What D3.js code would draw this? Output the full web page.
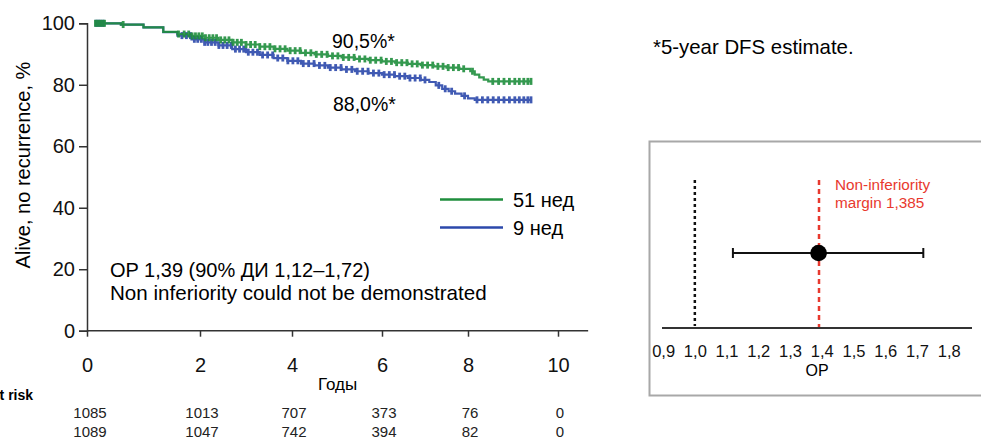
<!DOCTYPE html>
<html lang="ru">
<head>
<meta charset="UTF-8">
<title>DFS 51 vs 9 нед</title>
<style>
  body { margin: 0; background: #fff; }
  svg { display: block; font-family: "Liberation Sans", Arial, Helvetica, sans-serif; }
  .axis path, .axis line { stroke: #333; }
  .axis text { fill: #111; }
</style>
</head>
<body>
<svg id="chart" width="981" height="441"></svg>

<script src="https://cdn.jsdelivr.net/npm/d3@7"></script>
<script>
// ---- data ----
var years = [0, 2, 4, 6, 8, 10];
var yTicks = [0, 20, 40, 60, 80, 100];

var time51 = [0.15, 0.6, 1.0, 1.35, 1.6, 1.85, 2.1, 2.4, 2.7, 3.0, 3.3, 3.6, 3.9, 4.2, 4.5, 4.8, 5.1, 5.4, 5.7, 6.0, 6.3, 6.6, 6.9, 7.2, 7.5, 7.8, 8.05, 8.15, 8.25, 8.35, 8.45, 9.42];
var surv51 = [100, 99.6, 98.7, 97.2, 96.5, 95.9, 95.3, 94.6, 93.8, 93.1, 92.4, 91.7, 91.1, 90.4, 89.9, 89.4, 88.9, 88.4, 88.0, 87.6, 87.2, 86.8, 86.4, 86.0, 85.6, 85.2, 84.4, 83.3, 82.4, 81.7, 81.1, 81.1];

var time9 = [0.15, 0.6, 1.0, 1.35, 1.6, 1.85, 2.1, 2.4, 2.7, 3.0, 3.3, 3.6, 3.9, 4.2, 4.5, 4.8, 5.1, 5.4, 5.7, 6.0, 6.3, 6.6, 6.9, 7.1, 7.25, 7.4, 7.55, 7.7, 7.85, 8.0, 8.15, 9.42];
var surv9 = [100, 99.6, 98.7, 97.1, 96.0, 94.8, 93.8, 92.8, 91.6, 90.6, 89.7, 88.7, 87.8, 86.9, 86.3, 85.6, 85.0, 84.4, 83.8, 83.3, 82.8, 82.2, 81.6, 80.9, 79.8, 78.7, 77.9, 77.1, 76.4, 75.6, 75.1, 75.1];

// censoring marks
var cens51 = [0.15, 0.19, 0.23, 0.27, 0.31, 0.64, 1.62, 1.72, 1.8, 1.86, 1.92, 1.98, 2.05, 2.12, 2.2, 2.28, 2.36, 2.45, 2.54, 2.63, 2.72, 2.81, 2.9, 3.0, 3.1, 3.2, 3.3, 3.41, 3.52, 3.63, 3.74, 3.85, 3.96, 4.07, 4.18, 4.3, 4.42, 4.54, 4.66, 4.78, 4.9, 5.02, 5.14, 5.26, 5.38, 5.5, 5.62, 5.74, 5.86, 5.98, 6.1, 6.22, 6.34, 6.46, 6.58, 6.7, 6.82, 6.94, 7.06, 7.18, 7.3, 7.42, 7.54, 7.66, 7.78, 7.9, 8.1, 8.55, 8.68, 8.8, 8.92, 9.04, 9.14, 9.24, 9.33, 9.4];
var cens9 = [0.16, 0.2, 0.24, 0.29, 1.68, 1.76, 1.83, 1.9, 1.96, 2.03, 2.1, 2.17, 2.25, 2.33, 2.41, 2.5, 2.59, 2.68, 2.77, 2.86, 2.95, 3.05, 3.15, 3.25, 3.36, 3.47, 3.58, 3.69, 3.8, 3.91, 4.02, 4.13, 4.25, 4.37, 4.49, 4.61, 4.73, 4.85, 4.97, 5.09, 5.21, 5.33, 5.45, 5.57, 5.69, 5.81, 5.93, 6.05, 6.17, 6.29, 6.41, 6.53, 6.65, 6.77, 6.89, 7.0, 7.32, 7.47, 7.62, 7.92, 8.2, 8.32, 8.44, 8.56, 8.68, 8.8, 8.92, 9.04, 9.14, 9.24, 9.33, 9.4];

var risk51 = [1085, 1013, 707, 373, 76, 0];
var risk9 = [1089, 1047, 742, 394, 82, 0];

var hrTicks = [0.9, 1.0, 1.1, 1.2, 1.3, 1.4, 1.5, 1.6, 1.7, 1.8];
var hrRef = 1.0;
var hrMargin = 1.385;
var hrPoint = 1.39;
var hrLow = 1.12;
var hrHigh = 1.72;

var green = "#1f8e3d";
var blue = "#2c49ab";
var red = "#e8392e";

var svg = d3.select("#chart");

// ---- KM plot ----
var x = d3.scaleLinear()
    .domain(years)
    .range([87, 200, 292, 382, 468, 558]);
var xEnd = 10.67;
var y = d3.scaleLinear().domain([0, 100]).range([330.7, 23.3]);

var yAxis = svg.append("g")
    .attr("class", "axis")
    .attr("transform", "translate(87,0)")
    .call(d3.axisLeft(y).tickValues(yTicks).tickSize(8).tickPadding(4));
yAxis.select(".domain").attr("stroke-width", 1.5);
yAxis.selectAll("line").attr("stroke-width", 1.5);
yAxis.selectAll("text").style("font-size", "20px");

var xAxis = svg.append("g")
    .attr("class", "axis")
    .attr("transform", "translate(0," + y(0) + ")")
    .call(d3.axisBottom(x).tickValues(years).tickSize(6).tickPadding(21).tickFormat(d3.format("d")));
xAxis.select(".domain").remove();
xAxis.selectAll("line").attr("stroke-width", 1.5);
xAxis.selectAll("text").style("font-size", "20px");
xAxis.append("line")
    .attr("x1", x(0)).attr("x2", x(xEnd))
    .attr("stroke", "#333").attr("stroke-width", 1.5);

svg.append("text")
    .attr("x", (x(0) + x(xEnd)) / 2)
    .attr("y", 390)
    .attr("text-anchor", "middle")
    .style("font-size", "17px")
    .text("Годы");

svg.append("text")
    .attr("transform", "translate(30," + 165 + ") rotate(-90)")
    .attr("text-anchor", "middle")
    .style("font-size", "20px")
    .text("Alive, no recurrence, %");

var line = d3.line()
    .x(function (d) { return x(d[0]); })
    .y(function (d) { return y(d[1]); })
    .curve(d3.curveStepAfter);

function survAt(times, surv, t) {
    var i = d3.bisectRight(times, t) - 1;
    return surv[Math.max(0, i)];
}

var series = [
    { times: time9, surv: surv9, cens: cens9, color: blue },
    { times: time51, surv: surv51, cens: cens51, color: green }
];

series.forEach(function (s) {
    var pts = s.times.map(function (t, i) { return [t, s.surv[i]]; });
    var g = svg.append("g").attr("opacity", 0.9);
    g.append("path")
        .datum(pts)
        .attr("d", line)
        .attr("fill", "none")
        .attr("stroke", s.color)
        .attr("stroke-width", 2.2);
    g.selectAll("rect")
        .data(s.cens)
        .enter().append("rect")
        .attr("x", function (t) { return x(t) - 1.4; })
        .attr("y", function (t) { return y(survAt(s.times, s.surv, t)) - 3.5; })
        .attr("width", 2.8)
        .attr("height", 7)
        .attr("fill", s.color);
});

svg.append("text").attr("x", 332).attr("y", 48).style("font-size", "19.5px").text("90,5%*");
svg.append("text").attr("x", 333).attr("y", 111).style("font-size", "19.5px").text("88,0%*");

// legend
var legend = [
    { label: "51 нед", color: green },
    { label: "9 нед", color: blue }
];
var lg = svg.selectAll(".lg")
    .data(legend)
    .enter().append("g")
    .attr("class", "lg")
    .attr("transform", function (d, i) { return "translate(440," + (199.5 + i * 28) + ")"; });
lg.append("line")
    .attr("x1", 0).attr("x2", 63)
    .attr("stroke", function (d) { return d.color; })
    .attr("stroke-width", 2.6);
lg.append("text")
    .attr("x", 73).attr("y", 7.5)
    .style("font-size", "20px")
    .text(function (d) { return d.label; });

svg.append("text").attr("x", 110).attr("y", 277).style("font-size", "20px")
    .text("OP 1,39 (90% ДИ 1,12–1,72)");
svg.append("text").attr("x", 110).attr("y", 300).style("font-size", "20.6px")
    .text("Non inferiority could not be demonstrated");

// at risk table
svg.append("text").attr("x", -10.5).attr("y", 400)
    .style("font-size", "14px").style("font-weight", "bold")
    .text("At risk");
[risk51, risk9].forEach(function (row, r) {
    svg.append("g").selectAll("text")
        .data(row)
        .enter().append("text")
        .attr("x", function (d, i) { return x(years[i]) + (i === 0 ? 3 : 2); })
        .attr("y", 418 + r * 19)
        .attr("text-anchor", "middle")
        .style("font-size", "15px")
        .style("fill", "#222")
        .text(function (d) { return d; });
});

svg.append("text").attr("x", 653).attr("y", 54).style("font-size", "20.4px")
    .text("*5-year DFS estimate.");

// ---- forest plot ----
svg.append("rect")
    .attr("x", 649.5).attr("y", 141.5)
    .attr("width", 400).attr("height", 254)
    .attr("fill", "none").attr("stroke", "#a8a8a8").attr("stroke-width", 2);

var xf = d3.scaleLinear().domain([0.9, 1.8]).range([663.1, 948.7]);
var fBase = 328;
var fTop = 180;

var fAxis = svg.append("g")
    .attr("class", "axis")
    .attr("transform", "translate(0," + fBase + ")")
    .call(d3.axisBottom(xf).tickValues(hrTicks).tickSize(0).tickPadding(17)
        .tickFormat(function (d) { return d3.format(".1f")(d).replace(".", ","); }));
fAxis.select(".domain").remove();
fAxis.selectAll("text").style("font-size", "16.5px");
fAxis.append("line")
    .attr("x1", 662).attr("x2", 972)
    .attr("stroke", "#444").attr("stroke-width", 2);

svg.append("text").attr("x", 817).attr("y", 376)
    .attr("text-anchor", "middle").style("font-size", "16px").text("OP");

svg.append("line")
    .attr("x1", xf(hrRef)).attr("x2", xf(hrRef))
    .attr("y1", fTop).attr("y2", fBase - 2)
    .attr("stroke", "#111").attr("stroke-width", 2.5)
    .attr("stroke-dasharray", "3,3");

svg.append("line")
    .attr("x1", xf(hrMargin) + 2).attr("x2", xf(hrMargin) + 2)
    .attr("y1", fTop).attr("y2", fBase - 1)
    .attr("stroke", red).attr("stroke-width", 2.5)
    .attr("stroke-dasharray", "5,4");

svg.append("text").attr("x", 835).attr("y", 190)
    .style("font-size", "15.3px").style("fill", red).text("Non-inferiority");
svg.append("text").attr("x", 835).attr("y", 208)
    .style("font-size", "15.3px").style("fill", red).text("margin 1,385");

var ciY = 253;
svg.append("line")
    .attr("x1", xf(hrLow)).attr("x2", xf(hrHigh))
    .attr("y1", ciY).attr("y2", ciY)
    .attr("stroke", "#111").attr("stroke-width", 2);
[hrLow, hrHigh].forEach(function (v) {
    svg.append("line")
        .attr("x1", xf(v)).attr("x2", xf(v))
        .attr("y1", ciY - 5).attr("y2", ciY + 5)
        .attr("stroke", "#111").attr("stroke-width", 2);
});
svg.append("circle")
    .attr("cx", xf(hrPoint)).attr("cy", ciY)
    .attr("r", 8.3).attr("fill", "#000");
</script>
</body>
</html>
